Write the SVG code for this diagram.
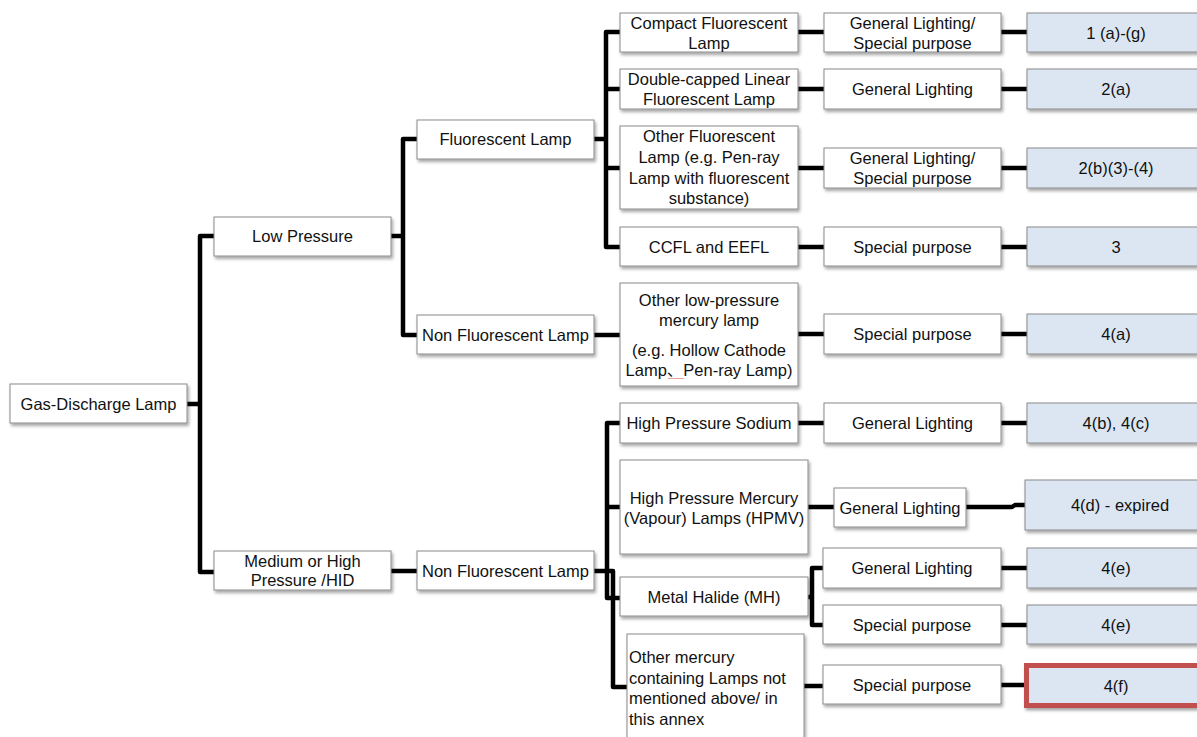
<svg xmlns="http://www.w3.org/2000/svg" width="1197" height="737" viewBox="0 0 1197 737">
<defs>
<filter id="sh" x="-10%" y="-20%" width="130%" height="160%">
<feDropShadow dx="1.5" dy="2.5" stdDeviation="1.5" flood-color="#000" flood-opacity="0.35"/>
</filter>
<style>
.b{fill:#fff;stroke:#8a8a8a;stroke-width:1;filter:url(#sh)}
.r{fill:#dce6f2;stroke:#8a8a8a;stroke-width:1;filter:url(#sh)}
.rr{fill:#dce6f2;stroke:#c0504d;stroke-width:5;filter:url(#sh)}
text{font-family:"Liberation Sans","Noto Sans CJK SC",sans-serif;font-size:16.5px;fill:#111;text-anchor:middle}
.l{text-anchor:start}
.c{fill:none;stroke:#000;stroke-width:4.5;stroke-linejoin:round}
</style>
</defs>
<rect width="1197" height="737" fill="#fff"/>
<g id="connectors">
<path class="c" d="M187,404 H200 M214,236 H200 V572 H214"/>
<path class="c" d="M391,236 H403 M417,139 H403 V335 H417"/>
<path class="c" d="M391,571 H417"/>
<path class="c" d="M594,139 H606 M620,32 H606 V247 H620 M606,89 H620 M606,168 H620"/>
<path class="c" d="M594,335 H620"/>
<path class="c" d="M620,423 H607 V598 H620 M607,507 H620"/>
<path class="c" d="M594,571 H613 V687 H627"/>
<path class="c" d="M798,32 H824 M798,89 H824 M798,168 H824 M798,247 H824 M798,334 H824 M798,423 H824 M808,507 H834"/>
<path class="c" d="M808,597 H812 M823,568 H812 V625 H823 M804,686 H823"/>
<path class="c" d="M1001,32 H1027 M1001,89 H1027 M1001,168 H1027 M1001,247 H1027 M1001,334 H1027 M1001,423 H1027 M966,507 H1012 L1015,505 H1025 M1001,568 H1027 M1001,625 H1027 M1001,685 H1024"/>
</g>
<g id="gas-discharge"><rect class="b" x="10" y="384" width="177" height="39"/><text x="98.5" y="409.5">Gas-Discharge Lamp</text></g>
<g id="low-pressure"><rect class="b" x="214" y="217" width="177" height="39"/><text x="302.5" y="242">Low Pressure</text></g>
<g id="medium-high"><rect class="b" x="214" y="551" width="177" height="39"/><text x="302.5" y="567">Medium or High</text><text x="302.5" y="586">Pressure /HID</text></g>
<g id="fluorescent"><rect class="b" x="417" y="120" width="177" height="39"/><text x="505.5" y="145">Fluorescent Lamp</text></g>
<g id="non-fluorescent-low"><rect class="b" x="417" y="315" width="177" height="39"/><text x="505.5" y="340.5">Non Fluorescent Lamp</text></g>
<g id="non-fluorescent-high"><rect class="b" x="417" y="551" width="177" height="39"/><text x="505.5" y="576.5">Non Fluorescent Lamp</text></g>
<g id="compact"><rect class="b" x="620" y="13" width="178" height="39"/><text x="709" y="28.5">Compact Fluorescent</text><text x="709" y="48.5">Lamp</text></g>
<g id="double-capped"><rect class="b" x="620" y="69" width="178" height="40"/><text x="709" y="84.5">Double-capped Linear</text><text x="709" y="104.5">Fluorescent Lamp</text></g>
<g id="other-fluorescent"><rect class="b" x="620" y="126" width="178" height="83"/><text x="709" y="141.5">Other Fluorescent</text><text x="709" y="162.5">Lamp (e.g. Pen-ray</text><text x="709" y="183.5">Lamp with fluorescent</text><text x="709" y="204">substance)</text></g>
<g id="ccfl"><rect class="b" x="620" y="227" width="178" height="39"/><text x="709" y="252.5">CCFL and EEFL</text></g>
<g id="other-low-pressure"><rect class="b" x="620" y="283" width="178" height="103"/><text x="709" y="306">Other low-pressure</text><text x="709" y="326">mercury lamp</text><text x="709" y="356">(e.g. Hollow Cathode</text><text x="709" y="376">Lamp、Pen-ray Lamp)</text><line x1="668" y1="378.5" x2="684" y2="378.5" stroke="#e8a0a0" stroke-width="1"/></g>
<g id="hps"><rect class="b" x="620" y="403" width="178" height="40"/><text x="709" y="429">High Pressure Sodium</text></g>
<g id="hpmv"><rect class="b" x="620" y="460" width="188" height="94"/><text x="714" y="504">High Pressure Mercury</text><text x="714" y="524">(Vapour) Lamps (HPMV)</text></g>
<g id="metal-halide"><rect class="b" x="620" y="577" width="188" height="39"/><text x="714" y="602.5">Metal Halide (MH)</text></g>
<g id="other-mercury"><rect class="b" x="627" y="634" width="177" height="108"/><text class="l" x="629" y="663">Other mercury</text><text class="l" x="629" y="683.5">containing Lamps not</text><text class="l" x="629" y="704">mentioned above/ in</text><text class="l" x="629" y="724.5">this annex</text></g>
<g id="use-1"><rect class="b" x="824" y="13" width="177" height="39"/><text x="912.5" y="28.5">General Lighting/</text><text x="912.5" y="48.5">Special purpose</text></g>
<g id="use-2"><rect class="b" x="824" y="69" width="177" height="40"/><text x="912.5" y="95">General Lighting</text></g>
<g id="use-3"><rect class="b" x="824" y="148" width="177" height="40"/><text x="912.5" y="163.5">General Lighting/</text><text x="912.5" y="183.5">Special purpose</text></g>
<g id="use-4"><rect class="b" x="824" y="227" width="177" height="39"/><text x="912.5" y="252.5">Special purpose</text></g>
<g id="use-5"><rect class="b" x="824" y="314" width="177" height="40"/><text x="912.5" y="340">Special purpose</text></g>
<g id="use-6"><rect class="b" x="824" y="403" width="177" height="40"/><text x="912.5" y="429">General Lighting</text></g>
<g id="use-7"><rect class="b" x="834" y="488" width="132" height="39"/><text x="900" y="513.5">General Lighting</text></g>
<g id="use-8"><rect class="b" x="823" y="548" width="178" height="40"/><text x="912" y="574">General Lighting</text></g>
<g id="use-9"><rect class="b" x="823" y="605" width="178" height="39"/><text x="912" y="630.5">Special purpose</text></g>
<g id="use-10"><rect class="b" x="823" y="665" width="178" height="39"/><text x="912" y="690.5">Special purpose</text></g>
<g id="ref-1"><rect class="r" x="1027" y="13" width="178" height="39"/><text x="1116" y="38.5">1 (a)-(g)</text></g>
<g id="ref-2"><rect class="r" x="1027" y="69" width="178" height="40"/><text x="1116" y="95">2(a)</text></g>
<g id="ref-3"><rect class="r" x="1027" y="148" width="178" height="40"/><text x="1116" y="174">2(b)(3)-(4)</text></g>
<g id="ref-4"><rect class="r" x="1027" y="227" width="178" height="39"/><text x="1116" y="252.5">3</text></g>
<g id="ref-5"><rect class="r" x="1027" y="314" width="178" height="40"/><text x="1116" y="340">4(a)</text></g>
<g id="ref-6"><rect class="r" x="1027" y="403" width="178" height="40"/><text x="1116" y="429">4(b), 4(c)</text></g>
<g id="ref-7"><rect class="r" x="1025" y="480" width="190" height="50"/><text x="1120" y="511">4(d) - expired</text></g>
<g id="ref-8"><rect class="r" x="1027" y="548" width="178" height="40"/><text x="1116" y="574">4(e)</text></g>
<g id="ref-9"><rect class="r" x="1027" y="605" width="178" height="39"/><text x="1116" y="630.5">4(e)</text></g>
<g id="ref-10"><rect class="rr" x="1026.5" y="665.5" width="180" height="40"/><text x="1116" y="691.5">4(f)</text></g>
</svg>
